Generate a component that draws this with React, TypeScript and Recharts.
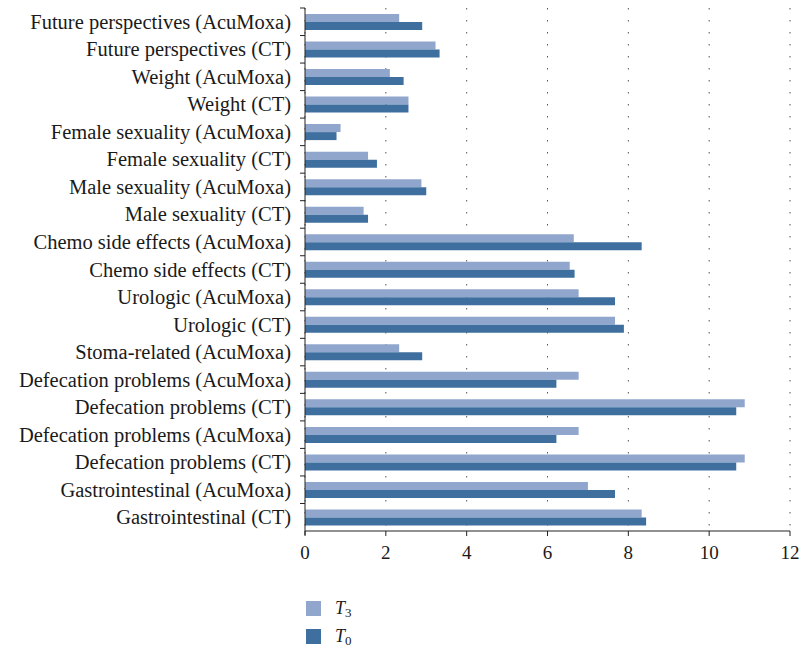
import React from "react";
import {
  Bar,
  BarChart,
  CartesianGrid,
  XAxis,
  YAxis,
} from "recharts";

const categories = [
  "Future perspectives (AcuMoxa)",
  "Future perspectives (CT)",
  "Weight (AcuMoxa)",
  "Weight (CT)",
  "Female sexuality (AcuMoxa)",
  "Female sexuality (CT)",
  "Male sexuality (AcuMoxa)",
  "Male sexuality (CT)",
  "Chemo side effects (AcuMoxa)",
  "Chemo side effects (CT)",
  "Urologic (AcuMoxa)",
  "Urologic (CT)",
  "Stoma-related (AcuMoxa)",
  "Defecation problems (AcuMoxa)",
  "Defecation problems (CT)",
  "Defecation problems (AcuMoxa)",
  "Defecation problems (CT)",
  "Gastrointestinal (AcuMoxa)",
  "Gastrointestinal (CT)",
];

const t3Values = [
  2.33, 3.23, 2.1, 2.56, 0.88, 1.56, 2.88, 1.45, 6.65, 6.55, 6.77, 7.67, 2.33,
  6.77, 10.88, 6.77, 10.88, 7.0, 8.33,
];

const t0Values = [
  2.9, 3.33, 2.44, 2.56, 0.78, 1.78, 3.0, 1.56, 8.33, 6.67, 7.67, 7.89, 2.9,
  6.22, 10.67, 6.22, 10.67, 7.67, 8.44,
];

const xTicks = [0, 2, 4, 6, 8, 10, 12];

const legendItems = [
  { color: "#90a6cc", sub: "3" },
  { color: "#3e6f9f", sub: "0" },
];

const LIGHT = "#90a6cc";
const DARK = "#3e6f9f";
const FONT = "'Liberation Serif', 'DejaVu Serif', serif";

// drawn over the whole 801x647 page, so the body margin doesn't matter
const CHART_W = 801;
const CHART_H = 647;
const TOP = 8;
const PLOT_BOTTOM = 531;
const BAND = (PLOT_BOTTOM - TOP) / categories.length;

const data = categories.map((name, i) => ({
  id: i,
  name,
  t3: t3Values[i],
  t0: t0Values[i],
}));

const CategoryTick = (props: any) => {
  const { x, y, payload, index } = props;
  const axisX = x + 14;
  const edge = y - BAND / 2;
  const isLast = index === categories.length - 1;
  return (
    <g>
      <line x1={axisX - 5} x2={axisX} y1={edge} y2={edge} stroke="#222" />
      {isLast && (
        <line
          x1={axisX}
          x2={axisX}
          y1={y + BAND / 2}
          y2={y + BAND / 2 + 4}
          stroke="#222"
        />
      )}
      <text
        x={x}
        y={y}
        textAnchor="end"
        dominantBaseline="central"
        fontFamily={FONT}
        fontSize={20.5}
        fill="#1a1a1a"
      >
        {categories[payload.value]}
      </text>
    </g>
  );
};

export default function App() {
  return (
    <div
      style={{
        position: "fixed",
        left: 0,
        top: 0,
        width: CHART_W,
        height: CHART_H,
        background: "#fff",
      }}
    >
      <BarChart
        width={CHART_W}
        height={CHART_H}
        data={data}
        layout="vertical"
        barSize={8}
        barGap={0}
        margin={{ top: TOP, right: 11, left: 0, bottom: CHART_H - PLOT_BOTTOM - 30 }}
      >
        <CartesianGrid
          horizontal={false}
          stroke="#555"
          strokeDasharray="1.5 10.5"
        />
        <XAxis
          type="number"
          domain={[0, 12]}
          ticks={xTicks}
          height={30}
          tickSize={5}
          tickMargin={10}
          axisLine={{ stroke: "#222" }}
          tickLine={{ stroke: "#222" }}
          tick={{ fontFamily: FONT, fontSize: 19, fill: "#1a1a1a" }}
        />
        <YAxis
          type="category"
          dataKey="id"
          width={305}
          interval={0}
          tickSize={0}
          tickMargin={14}
          tickLine={false}
          axisLine={{ stroke: "#222" }}
          tick={<CategoryTick />}
        />
        <Bar dataKey="t3" fill={LIGHT} isAnimationActive={false} />
        <Bar dataKey="t0" fill={DARK} isAnimationActive={false} />
      </BarChart>
      <svg
        width={100}
        height={50}
        style={{ position: "absolute", left: 300, top: 597 }}
      >
        {legendItems.map((item, i) => (
          <g key={item.sub} transform={`translate(0, ${i * 28})`}>
            <rect x={6} y={4} width={15} height={15} fill={item.color} />
            <text
              x={35}
              y={17}
              fontFamily={FONT}
              fontSize={18}
              fill="#1a1a1a"
            >
              <tspan fontStyle="italic">T</tspan>
              <tspan fontSize={13} dy={3}>
                {item.sub}
              </tspan>
            </text>
          </g>
        ))}
      </svg>
    </div>
  );
}
